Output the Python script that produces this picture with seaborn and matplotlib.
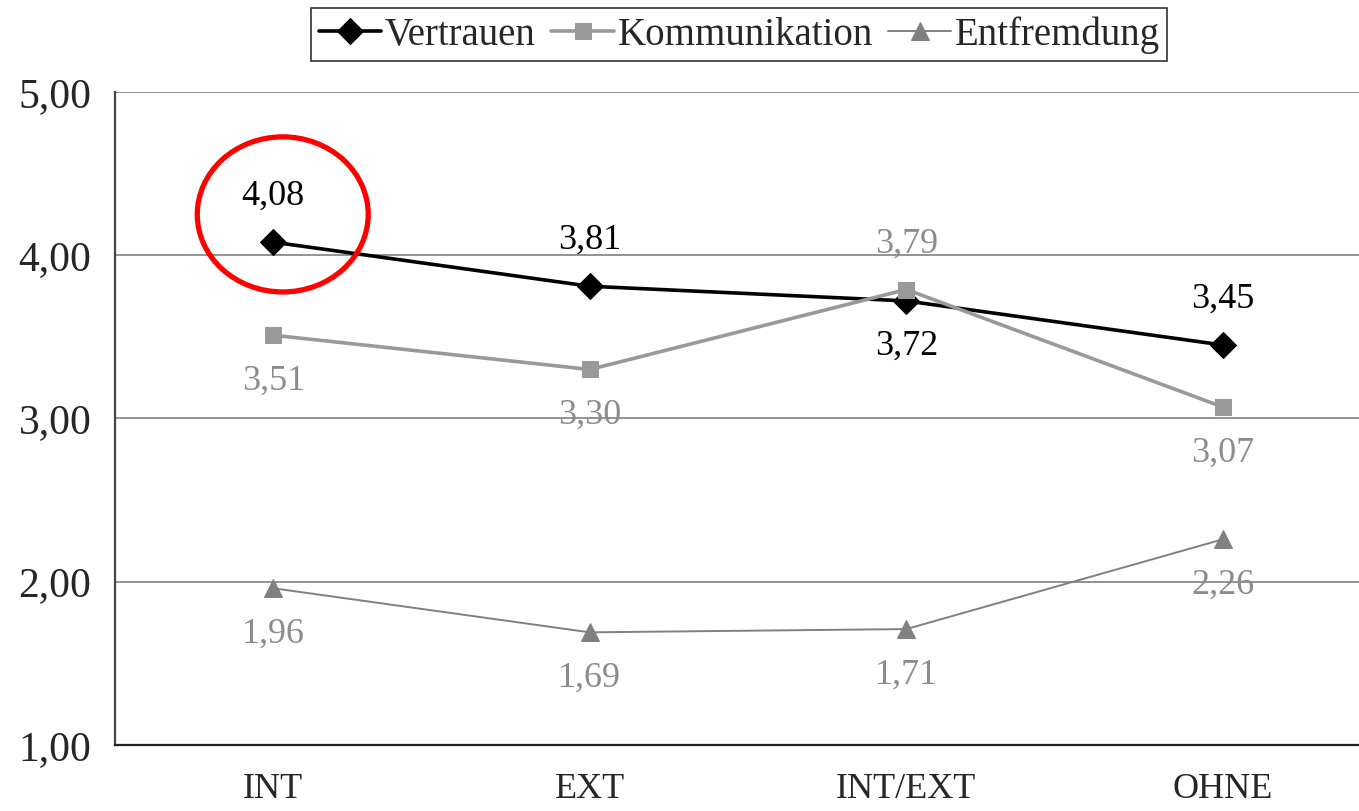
import numpy as np
import pandas as pd
import matplotlib
matplotlib.use("Agg")
import matplotlib.pyplot as plt
from matplotlib.patches import Ellipse
import seaborn as sns

# data
groups = ["INT", "EXT", "INT/EXT", "OHNE"]
vertrauen = [4.08, 3.81, 3.72, 3.45]
kommunikation = [3.51, 3.30, 3.79, 3.07]
entfremdung = [1.96, 1.69, 1.71, 2.26]

sns.set_style("white")
plt.rcParams["font.family"] = ["Liberation Serif", "DejaVu Serif"]

df = pd.DataFrame({
    "pos": list(range(len(groups))) * 3,
    "wert": vertrauen + kommunikation + entfremdung,
    "reihe": ["Vertrauen"] * 4 + ["Kommunikation"] * 4 + ["Entfremdung"] * 4,
})

styles = {
    "Vertrauen": dict(color="black", marker="D", lw=2.6, ms=13, txt="black"),
    "Kommunikation": dict(color="#999999", marker="s", lw=2.6, ms=12, txt="#8c8c8c"),
    "Entfremdung": dict(color="#808080", marker="^", lw=1.4, ms=13, txt="#8c8c8c"),
}
# label above (+1) or below (-1) each point
lab_dir = {
    "Vertrauen": [1, 1, -1, 1],
    "Kommunikation": [-1, -1, 1, -1],
    "Entfremdung": [-1, -1, -1, -1],
}

fig = plt.figure(figsize=(13.59, 8.11), dpi=100)
ax = fig.add_axes([0.0846, 0.0814, 0.9154, 0.8052])

for name, st in styles.items():
    sub = df[df["reihe"] == name]
    sns.lineplot(data=sub, x="pos", y="wert", ax=ax, color=st["color"],
                 marker=st["marker"], markersize=st["ms"], linewidth=st["lw"],
                 markeredgecolor=st["color"], label=name)
    for x, y, d in zip(sub["pos"], sub["wert"], lab_dir[name]):
        ax.text(x, y + d * 0.28, f"{y:.2f}".replace(".", ","), ha="center",
                va="center", fontsize=26, color=st["txt"])

# red highlight circle around the first value
ax.add_patch(Ellipse((0.03, 4.25), 0.54, 0.95, fill=False, edgecolor="red",
                     lw=3.8, zorder=5))

ax.set_xlim(-0.5, 3.43)
ax.set_ylim(1, 5)
ax.set_yticks([1, 2, 3, 4, 5])
ax.set_yticklabels([f"{v:.2f}".replace(".", ",") for v in [1, 2, 3, 4, 5]],
                   fontsize=30)
ax.yaxis.grid(True, color="#808080", lw=1.2)
ax.set_axisbelow(True)

ax.set_xticks([-0.5, 0.5, 1.5, 2.5])
ax.set_xticklabels([])
ax.set_xticks(range(len(groups)), minor=True)
ax.set_xticklabels(groups, minor=True, fontsize=26)
ax.tick_params(axis="x", which="minor", length=0, pad=20)
ax.tick_params(axis="x", which="major", length=8, width=1.2, color="#444444",
               direction="out")
ax.tick_params(axis="y", length=13, width=1.2, color="#444444", direction="out",
               pad=4)
ax.set_xlabel("")
ax.set_ylabel("")

for s in ["top", "right"]:
    ax.spines[s].set_visible(False)
ax.spines["left"].set_color("#444444")
ax.spines["left"].set_linewidth(1.6)
ax.spines["bottom"].set_color("#222222")
ax.spines["bottom"].set_linewidth(1.6)

leg = ax.legend(loc="center", bbox_to_anchor=(0.544, 0.957),
                bbox_transform=fig.transFigure, ncol=3, fontsize=28,
                frameon=True, fancybox=False, handlelength=1.6,
                handletextpad=0.1, columnspacing=0.4, borderpad=0.2,
                borderaxespad=0)
leg.get_frame().set_edgecolor("black")
leg.get_frame().set_linewidth(1.2)

fig.savefig("out.png", dpi=100)
